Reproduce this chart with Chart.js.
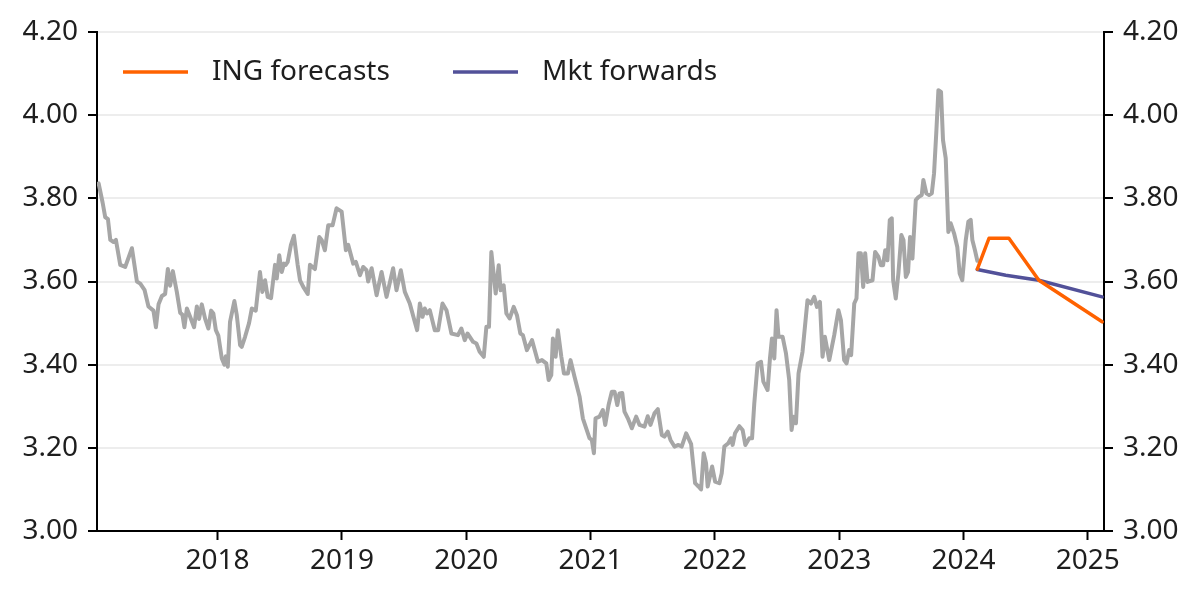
<!DOCTYPE html>
<html>

<head>
    <meta charset="utf-8">
    <title>ING forecasts vs market forwards</title>
    <script src="https://cdn.jsdelivr.net/npm/chart.js"></script>
    <style>
        html,
        body {
            margin: 0;
            padding: 0;
            background: #fff;
        }

        .chart-wrapper {
            width: 1200px;
            height: 599px;
        }
    </style>
</head>

<body>
    <div class="chart-wrapper"><canvas id="chart"></canvas></div>
    <script>
        // history (decimal years) and level
        const histYears = [
            2017.043, 2017.075, 2017.096, 2017.118, 2017.137, 2017.163, 2017.182, 2017.217, 2017.257, 2017.311,
            2017.351, 2017.378, 2017.412, 2017.444, 2017.484, 2017.504, 2017.525, 2017.552, 2017.578, 2017.600,
            2017.618, 2017.640, 2017.672, 2017.699, 2017.717, 2017.733, 2017.753, 2017.779, 2017.811, 2017.833,
            2017.851, 2017.873, 2017.900, 2017.926, 2017.948, 2017.966, 2017.986, 2018.006, 2018.034, 2018.055,
            2018.066, 2018.082, 2018.100, 2018.135, 2018.154, 2018.181, 2018.194, 2018.221, 2018.253, 2018.275,
            2018.307, 2018.341, 2018.360, 2018.382, 2018.403, 2018.430, 2018.462, 2018.476, 2018.496, 2018.516,
            2018.534, 2018.548, 2018.564, 2018.590, 2018.614, 2018.644, 2018.663, 2018.689, 2018.725, 2018.743,
            2018.783, 2018.818, 2018.837, 2018.863, 2018.890, 2018.925, 2018.957, 2018.998, 2019.032, 2019.051,
            2019.091, 2019.112, 2019.145, 2019.171, 2019.198, 2019.211, 2019.239, 2019.279, 2019.319, 2019.359,
            2019.412, 2019.439, 2019.474, 2019.506, 2019.546, 2019.586, 2019.605, 2019.627, 2019.648, 2019.667,
            2019.685, 2019.707, 2019.747, 2019.774, 2019.809, 2019.841, 2019.881, 2019.934, 2019.961, 2019.988,
            2020.010, 2020.055, 2020.082, 2020.108, 2020.141, 2020.162, 2020.183, 2020.202, 2020.223, 2020.237,
            2020.261, 2020.277, 2020.301, 2020.323, 2020.349, 2020.382, 2020.408, 2020.435, 2020.456, 2020.488,
            2020.529, 2020.577, 2020.609, 2020.644, 2020.663, 2020.684, 2020.697, 2020.719, 2020.737, 2020.765,
            2020.786, 2020.818, 2020.839, 2020.871, 2020.912, 2020.938, 2020.965, 2020.992, 2021.010, 2021.027,
            2021.040, 2021.072, 2021.099, 2021.118, 2021.145, 2021.171, 2021.193, 2021.215, 2021.233, 2021.255,
            2021.273, 2021.300, 2021.332, 2021.367, 2021.394, 2021.434, 2021.460, 2021.482, 2021.514, 2021.541,
            2021.573, 2021.594, 2021.621, 2021.643, 2021.675, 2021.707, 2021.733, 2021.769, 2021.809, 2021.841,
            2021.868, 2021.889, 2021.910, 2021.929, 2021.942, 2021.978, 2022.002, 2022.036, 2022.055, 2022.076,
            2022.108, 2022.130, 2022.143, 2022.162, 2022.197, 2022.223, 2022.245, 2022.277, 2022.299, 2022.317,
            2022.344, 2022.371, 2022.390, 2022.424, 2022.443, 2022.459, 2022.478, 2022.496, 2022.512, 2022.545,
            2022.572, 2022.598, 2022.617, 2022.633, 2022.652, 2022.673, 2022.705, 2022.745, 2022.773, 2022.799,
            2022.821, 2022.845, 2022.866, 2022.885, 2022.920, 2022.960, 2022.994, 2023.014, 2023.040, 2023.059,
            2023.080, 2023.096, 2023.121, 2023.139, 2023.155, 2023.174, 2023.193, 2023.209, 2023.228, 2023.268,
            2023.289, 2023.316, 2023.335, 2023.353, 2023.370, 2023.388, 2023.407, 2023.423, 2023.434, 2023.455,
            2023.476, 2023.500, 2023.517, 2023.536, 2023.554, 2023.570, 2023.589, 2023.616, 2023.637, 2023.664,
            2023.677, 2023.701, 2023.723, 2023.745, 2023.763, 2023.782, 2023.798, 2023.819, 2023.835, 2023.857,
            2023.878, 2023.897, 2023.924, 2023.950, 2023.969, 2023.990, 2024.018, 2024.039, 2024.058, 2024.071,
            2024.092, 2024.111
        ];
        const histValues = [
            3.836, 3.790, 3.755, 3.750, 3.700, 3.695, 3.700, 3.640, 3.635, 3.680,
            3.600, 3.595, 3.580, 3.540, 3.530, 3.490, 3.545, 3.565, 3.570, 3.630,
            3.590, 3.625, 3.575, 3.525, 3.520, 3.490, 3.535, 3.515, 3.490, 3.540,
            3.510, 3.545, 3.510, 3.487, 3.530, 3.523, 3.483, 3.470, 3.415, 3.400,
            3.420, 3.395, 3.503, 3.553, 3.520, 3.447, 3.443, 3.467, 3.500, 3.535,
            3.530, 3.623, 3.575, 3.603, 3.563, 3.560, 3.640, 3.607, 3.663, 3.623,
            3.643, 3.640, 3.647, 3.688, 3.710, 3.640, 3.603, 3.587, 3.570, 3.640,
            3.630, 3.707, 3.700, 3.675, 3.735, 3.735, 3.776, 3.768, 3.675, 3.688,
            3.643, 3.647, 3.615, 3.635, 3.627, 3.600, 3.632, 3.567, 3.623, 3.563,
            3.632, 3.579, 3.627, 3.575, 3.547, 3.503, 3.483, 3.547, 3.515, 3.535,
            3.523, 3.531, 3.483, 3.483, 3.547, 3.531, 3.475, 3.471, 3.487, 3.459,
            3.475, 3.455, 3.451, 3.431, 3.419, 3.491, 3.491, 3.671, 3.611, 3.571,
            3.639, 3.579, 3.591, 3.523, 3.511, 3.539, 3.519, 3.475, 3.471, 3.435,
            3.459, 3.407, 3.411, 3.403, 3.363, 3.375, 3.463, 3.419, 3.483, 3.419,
            3.379, 3.379, 3.411, 3.371, 3.323, 3.271, 3.247, 3.223, 3.219, 3.187,
            3.271, 3.275, 3.291, 3.255, 3.303, 3.335, 3.335, 3.303, 3.331, 3.332,
            3.287, 3.271, 3.247, 3.275, 3.255, 3.251, 3.276, 3.255, 3.283, 3.293,
            3.231, 3.227, 3.239, 3.219, 3.203, 3.207, 3.203, 3.235, 3.209, 3.115,
            3.107, 3.100, 3.187, 3.163, 3.107, 3.155, 3.119, 3.115, 3.139, 3.203,
            3.211, 3.223, 3.207, 3.235, 3.252, 3.243, 3.207, 3.223, 3.223, 3.307,
            3.403, 3.407, 3.359, 3.339, 3.415, 3.463, 3.415, 3.531, 3.467, 3.467,
            3.427, 3.363, 3.243, 3.275, 3.259, 3.379, 3.431, 3.555, 3.547, 3.563,
            3.539, 3.551, 3.419, 3.467, 3.411, 3.471, 3.531, 3.507, 3.411, 3.403,
            3.435, 3.423, 3.547, 3.559, 3.668, 3.668, 3.587, 3.668, 3.599, 3.603,
            3.671, 3.659, 3.639, 3.639, 3.675, 3.651, 3.748, 3.752, 3.603, 3.559,
            3.619, 3.712, 3.700, 3.611, 3.623, 3.707, 3.655, 3.796, 3.803, 3.808,
            3.844, 3.812, 3.808, 3.812, 3.860, 3.964, 4.060, 4.056, 3.940, 3.896,
            3.719, 3.740, 3.716, 3.683, 3.619, 3.603, 3.700, 3.744, 3.748, 3.700,
            3.675, 3.650
        ];

        // ING forecasts
        const ingYears = [2024.111, 2024.205, 2024.365, 2024.606, 2025.115];
        const ingValues = [3.630, 3.704, 3.704, 3.603, 3.503];

        // market forwards
        const fwdYears = [2024.111, 2024.339, 2024.606, 2025.115];
        const fwdValues = [3.629, 3.615, 3.603, 3.563];

        const yearTicks = [2018, 2019, 2020, 2021, 2022, 2023, 2024, 2025];
        const valueTicks = [3.0, 3.2, 3.4, 3.6, 3.8, 4.0, 4.2];

        const grey = '#a6a6a6';
        const orange = '#ff6200';
        const purple = '#525199';
        const textColor = '#1e1e1e';
        const fontFamily = '"Noto Sans", sans-serif';

        const toPoints = (xs, ys) => xs.map((x, i) => ({ x: x, y: ys[i] }));

        // legend sits inside the plot, top-left
        const legendItems = [
            { text: 'ING forecasts', color: orange, dx: 26 },
            { text: 'Mkt forwards', color: purple, dx: 356 }
        ];
        const insideLegend = {
            id: 'insideLegend',
            afterDraw(chart) {
                const ctx = chart.ctx;
                const area = chart.chartArea;
                const y = area.top + 40;
                ctx.save();
                ctx.font = '28px ' + fontFamily;
                ctx.textBaseline = 'middle';
                ctx.fillStyle = textColor;
                legendItems.forEach(item => {
                    const x0 = area.left + item.dx;
                    ctx.strokeStyle = item.color;
                    ctx.lineWidth = 3.5;
                    ctx.beginPath();
                    ctx.moveTo(x0, y);
                    ctx.lineTo(x0 + 65, y);
                    ctx.stroke();
                    ctx.fillText(item.text, x0 + 89, y);
                });
                ctx.restore();
            }
        };

        const yAxis = (position, width, onArea) => ({
            type: 'linear',
            position: position,
            min: 3.0,
            max: 4.2,
            afterBuildTicks: s => { s.ticks = valueTicks.map(v => ({ value: v })); },
            afterFit: s => { s.width = width; },
            grid: {
                drawOnChartArea: onArea,
                color: '#ededed',
                lineWidth: 2,
                tickColor: '#000',
                tickLength: 9,
                tickWidth: 2
            },
            border: { color: '#000', width: 2 },
            ticks: {
                color: textColor,
                font: { family: fontFamily, size: 28 },
                padding: 10,
                callback: v => v.toFixed(2)
            }
        });

        new Chart(document.getElementById('chart'), {
            type: 'line',
            data: {
                datasets: [
                    {
                        label: 'ING forecasts',
                        data: toPoints(ingYears, ingValues),
                        borderColor: orange,
                        borderWidth: 3.5,
                        order: 1
                    },
                    {
                        label: 'Mkt forwards',
                        data: toPoints(fwdYears, fwdValues),
                        borderColor: purple,
                        borderWidth: 3.5,
                        order: 2
                    },
                    {
                        label: 'History',
                        data: toPoints(histYears, histValues),
                        borderColor: grey,
                        borderWidth: 4,
                        order: 3
                    }
                ]
            },
            options: {
                responsive: true,
                maintainAspectRatio: false,
                animation: false,
                layout: { autoPadding: false, padding: { top: 32, left: 0, right: 0, bottom: 0 } },
                elements: {
                    point: { radius: 0 },
                    line: { tension: 0, borderJoinStyle: 'round', borderCapStyle: 'round' }
                },
                plugins: {
                    legend: { display: false },
                    tooltip: { enabled: false }
                },
                scales: {
                    x: {
                        type: 'linear',
                        min: 2017.03,
                        max: 2025.13,
                        afterBuildTicks: s => { s.ticks = yearTicks.map(v => ({ value: v })); },
                        afterFit: s => { s.height = 68; },
                        grid: {
                            drawOnChartArea: false,
                            tickColor: '#000',
                            tickLength: 9,
                            tickWidth: 2
                        },
                        border: { color: '#000', width: 2 },
                        ticks: {
                            color: textColor,
                            font: { family: fontFamily, size: 28 },
                            padding: 4,
                            maxRotation: 0,
                            autoSkip: false,
                            callback: v => String(v)
                        }
                    },
                    y: yAxis('left', 97, true),
                    y2: yAxis('right', 96, false)
                }
            },
            plugins: [insideLegend]
        });
    </script>
</body>

</html>
